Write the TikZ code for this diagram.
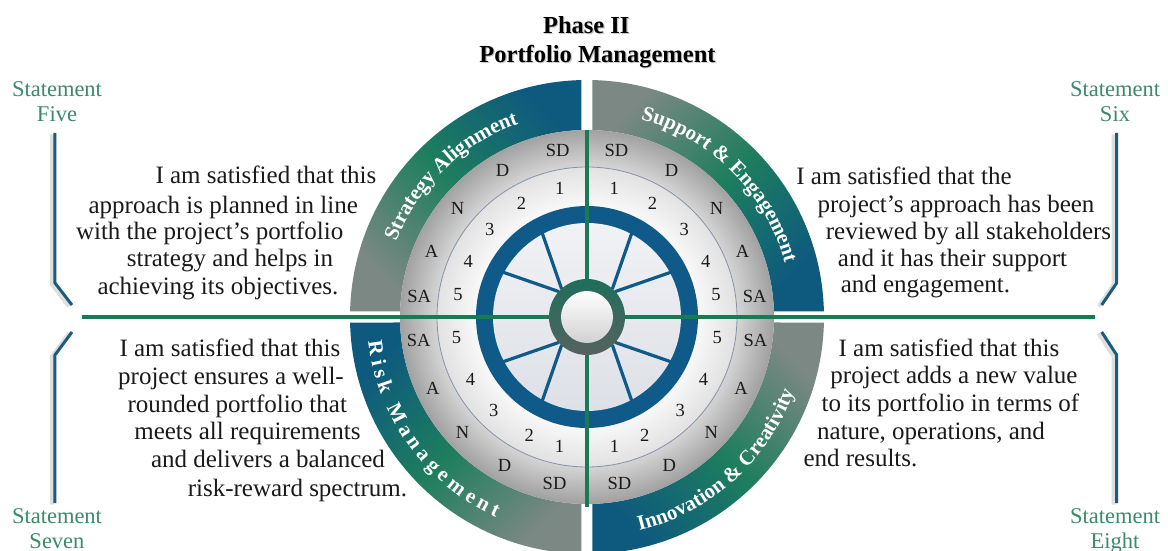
\documentclass[tikz,border=0pt]{standalone}
\usepackage{fontspec}
\setmainfont{Liberation Serif}
\usetikzlibrary{decorations.text}
\definecolor{qblue}{HTML}{0E5A7E}
\definecolor{qgreen}{HTML}{1E7E5D}
\definecolor{qgray}{HTML}{7B8884}
\definecolor{graydark}{HTML}{A2A2A2}
\definecolor{graylight}{HTML}{D4D4D4}
\definecolor{lightouter}{HTML}{E2E2E2}
\definecolor{lightinner}{HTML}{F8F8F8}
\definecolor{ringedge}{HTML}{8592A8}
\definecolor{ringblue}{HTML}{0F5A88}
\definecolor{disctop}{HTML}{F1F2F5}
\definecolor{discbot}{HTML}{DDE0E6}
\definecolor{linegreen}{HTML}{1B7A55}
\definecolor{hubgreen}{HTML}{1F6E5B}
\definecolor{hubdark}{HTML}{56625F}
\definecolor{stmtgreen}{HTML}{3B8B6B}
\definecolor{bracketblue}{HTML}{1A5B7E}
\definecolor{textdark}{HTML}{1A1A1A}
\newcommand\bodyfnt{\fontsize{25}{30}\selectfont}
\newcommand\ringfnt{\fontsize{18.5}{22}\selectfont}
\newcommand\stmtfnt{\fontsize{22.5}{27}\selectfont}
\newcommand\titlefnt{\fontsize{24.5}{29}\selectfont\bfseries}
\newcommand\qlblfnt{\fontsize{21}{25}\selectfont\bfseries}
\tikzset{
  body/.style={font=\bodyfnt, text=textdark, anchor=base, inner sep=0pt},
  ringlbl/.style={font=\ringfnt, text=textdark, inner sep=0pt},
  stmt/.style={font=\stmtfnt, text=stmtgreen, anchor=base, inner sep=0pt},
  ttl/.style={font=\titlefnt, text=black, anchor=base, inner sep=0pt},
  ttlshadow/.style={font=\titlefnt, text=black!22, anchor=base, inner sep=0pt},
  bracketline/.style={draw=bracketblue, line width=3pt, line join=round},
  bracketshadow/.style={draw=black!13, line width=4pt, line join=round},
  gline/.style={draw=linegreen, line width=4.5pt},
  spoke/.style={draw=ringblue, line width=3.2pt, line join=round, line cap=round},
}
\begin{document}
\begin{tikzpicture}[x=1pt,y=1pt]
\useasboundingbox (-587,-234) rectangle (581,317);
\fill[white] (-587,-234) rectangle (581,317);

% outer quadrants
\shade[bottom color=qgray, top color=qblue, middle color=qgreen, shading angle=-45]
  (-5.5,186.92) -- (-5.5,236.94) arc[start angle=91.33, end angle=178.67, radius=237]
  -- (-186.92,5.5) arc[start angle=178.31, end angle=91.69, radius=187] -- cycle;
\shade[bottom color=qblue, top color=qgray, middle color=qgreen, shading angle=45]
  (5.5,186.92) -- (5.5,236.94) arc[start angle=88.67, end angle=1.33, radius=237]
  -- (186.92,5.5) arc[start angle=1.69, end angle=88.31, radius=187] -- cycle;
\shade[bottom color=qgray, top color=qblue, middle color=qgreen, shading angle=45]
  (-5.5,-186.92) -- (-5.5,-236.94) arc[start angle=268.67, end angle=181.33, radius=237]
  -- (-186.92,-5.5) arc[start angle=181.69, end angle=268.31, radius=187] -- cycle;
\shade[bottom color=qblue, top color=qgray, middle color=qgreen, shading angle=-45]
  (5.5,-186.92) -- (5.5,-236.94) arc[start angle=271.33, end angle=358.67, radius=237]
  -- (186.92,-5.5) arc[start angle=358.31, end angle=271.69, radius=187] -- cycle;

% gray ring
\foreach \r in {187,186,...,151}{
  \pgfmathsetmacro\pc{(187-\r)/36*100}
  \fill[graylight!\pc!graydark] (0,0) circle (\r);
}
% light ring
\foreach \r in {150,149,...,112}{
  \pgfmathsetmacro\pc{(150-\r)/38*100}
  \fill[lightinner!\pc!lightouter] (0,0) circle (\r);
}
\draw[ringedge, line width=0.8pt] (0,0) circle (150);
% blue ring and disc
\fill[ringblue] (0,0) circle (111);
\shade[top color=disctop, bottom color=discbot] (0,0) circle (94);

% spokes
\draw[spoke] (62:96) -- (48:38);
\draw[spoke] (28:96) -- (42:38);
\draw[spoke] (118:96) -- (132:38);
\draw[spoke] (152:96) -- (138:38);
\draw[spoke] (208:96) -- (222:38);
\draw[spoke] (242:96) -- (228:38);
\draw[spoke] (298:96) -- (312:38);
\draw[spoke] (332:96) -- (318:38);

% green axis lines
\coordinate (hl) at (-505,0);
\coordinate (hr) at (508,0);
\coordinate (vt) at (0,187);
\coordinate (vb) at (0,-190);
\draw[gline] (hl) -- (hr);
\draw[draw=linegreen, line width=3.5pt] (vt) -- (vb);

% hub
\shade[top color=hubgreen, middle color=hubgreen, bottom color=hubdark] (0,0) circle (38);
\shade[top color=white, bottom color=black!18] (0,0) circle (26);

% ring labels
\foreach \a/\t/\n in {100/SD/a,120/D/b,140/N/c,157/A/d,173/SA/e}
  \node[ringlbl] (tl\n) at (\a:169) {\t};
\foreach \a/\t/\n in {80/SD/a,60/D/b,40/N/c,23/A/d,7/SA/e}
  \node[ringlbl] (tr\n) at (\a:169) {\t};
\foreach \a/\t/\n in {259/SD/a,241/D/b,223/N/c,205/A/d,188/SA/e}
  \node[ringlbl] (bl\n) at (\a:170) {\t};
\foreach \a/\t/\n in {281/SD/a,299/D/b,317/N/c,335/A/d,352/SA/e}
  \node[ringlbl] (br\n) at (\a:170) {\t};
\foreach \a/\t in {102/1,120/2,138/3,155/4,170/5}
  \node[ringlbl] (tln\t) at (\a:131) {\t};
\foreach \a/\t in {78/1,60/2,42/3,25/4,10/5}
  \node[ringlbl] (trn\t) at (\a:131) {\t};
\foreach \a/\t in {258/1,244/2,225/3,208/4,189/5}
  \node[ringlbl] (bln\t) at (\a:132) {\t};
\foreach \a/\t in {282/1,296/2,315/3,332/4,351/5}
  \node[ringlbl] (brn\t) at (\a:132) {\t};

% curved quadrant labels
\path[decorate, decoration={text along path, text align=center, text color=white,
  text={|\qlblfnt|Strategy Alignment}}]
  (174:205) arc[start angle=174, end angle=94, radius=205];
\path[decorate, decoration={text along path, text align=center, text color=white,
  text={|\qlblfnt|Support {\&} Engagement}}]
  (85:205) arc[start angle=85, end angle=5, radius=205];
\path[decorate, decoration={text along path, text align=center, text color=white,
  text={|\qlblfnt|R{\kern4.5pt}i{\kern4.5pt}s{\kern4.5pt}k{\kern4.5pt} {\kern4.5pt}M{\kern4.5pt}a{\kern4.5pt}n{\kern4.5pt}a{\kern4.5pt}g{\kern4.5pt}e{\kern4.5pt}m{\kern4.5pt}e{\kern4.5pt}n{\kern4.5pt}t}}]
  (176:220) arc[start angle=176, end angle=256, radius=220];
\path[decorate, decoration={text along path, text align=center, text color=white,
  text={|\qlblfnt|Innovation {\&} Creativity}}]
  (272:220) arc[start angle=272, end angle=352, radius=220];

% title
\node[ttlshadow] (t1s) at (0.4,282.6) {Phase II};
\node[ttl] (t1) at (-0.7,283.7) {Phase II};
\node[ttlshadow] (t2s) at (11.6,253.2) {Portfolio Management};
\node[ttl] (t2) at (10.5,254.3) {Portfolio Management};

% body text
\node[body] (tl1) at (-321,133) {I am satisfied that this};
\node[body] (tl2) at (-363.7,103.7) {approach is planned in line};
\node[body] (tl3) at (-377.3,77) {with the project’s portfolio};
\node[body] (tl4) at (-357,50.3) {strategy and helps in};
\node[body] (tl5) at (-369,22) {achieving its objectives.};

\node[body] (tr1) at (317,132) {I am satisfied that the};
\node[body] (tr2) at (369,104) {project’s approach has been};
\node[body] (tr3) at (381.5,77) {reviewed by all stakeholders};
\node[body] (tr4) at (365.5,50) {and it has their support};
\node[body] (tr5) at (338.5,24) {and engagement.};

\node[body] (bl1) at (-357,-39.7) {I am satisfied that this};
\node[body] (bl2) at (-356,-68) {project ensures a well-};
\node[body] (bl3) at (-349.7,-95.7) {rounded portfolio that};
\node[body] (bl4) at (-339.5,-123) {meets all requirements};
\node[body] (bl5) at (-319,-151) {and delivers a balanced};
\node[body] (bl6) at (-289.5,-179) {risk-reward spectrum.};

\node[body] (br1) at (362,-39.7) {I am satisfied that this};
\node[body] (br2) at (367,-67) {project adds a new value};
\node[body] (br3) at (363.5,-94.7) {to its portfolio in terms of};
\node[body] (br4) at (344,-123) {nature, operations, and};
\node[body] (br5) at (273.5,-149.7) {end results.};

% statement labels
\node[stmt] (s5a) at (-530,220.3) {Statement};
\node[stmt] (s5b) at (-530,195.3) {Five};
\node[stmt] (s6a) at (528,220.3) {Statement};
\node[stmt] (s6b) at (528,195.3) {Six};
\node[stmt] (s7a) at (-530,-206) {Statement};
\node[stmt] (s7b) at (-530,-231) {Seven};
\node[stmt] (s8a) at (528,-206) {Statement};
\node[stmt] (s8b) at (528,-231) {Eight};

% brackets
\coordinate (b5a) at (-532,184); \coordinate (b5b) at (-532,34); \coordinate (b5c) at (-515,12);
\coordinate (b6a) at (529.7,184); \coordinate (b6b) at (529.7,34); \coordinate (b6c) at (514.7,12);
\coordinate (b7a) at (-515,-15); \coordinate (b7b) at (-532,-38); \coordinate (b7c) at (-532,-186);
\coordinate (b8a) at (514.7,-15); \coordinate (b8b) at (529.7,-38); \coordinate (b8c) at (529.7,-186);
\foreach \b in {5,6,7,8}{
  \draw[bracketshadow] ([xshift=-3pt,yshift=-1.5pt]b\b a) -- ([xshift=-3pt,yshift=-1.5pt]b\b b) -- ([xshift=-3pt,yshift=-1.5pt]b\b c);
  \draw[bracketline] (b\b a) -- (b\b b) -- (b\b c);
}
\end{tikzpicture}
\end{document}
